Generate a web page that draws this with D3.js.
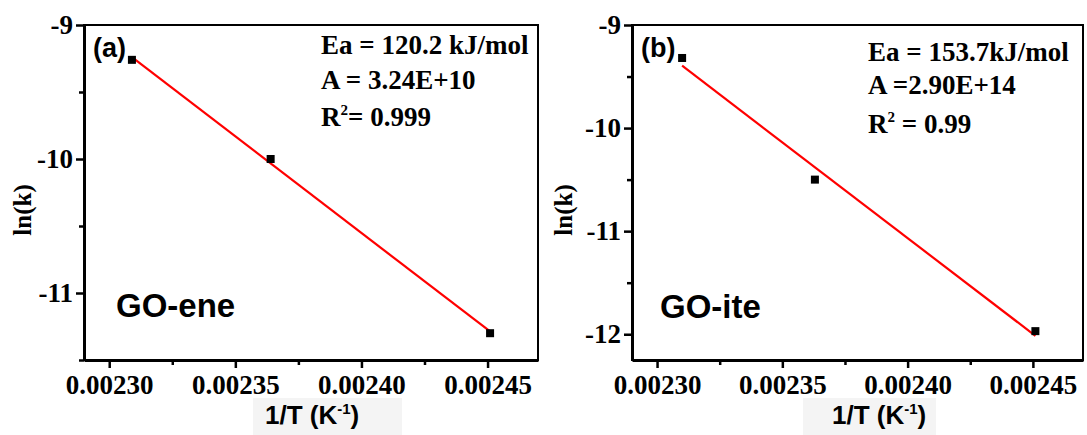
<!DOCTYPE html>
<html>
<head>
<meta charset="utf-8">
<script src="https://cdn.jsdelivr.net/npm/d3@7"></script>
<style>
  body { margin: 0; background: #fff; }
  svg { display: block; }
  .tick text { font-family: "Liberation Serif", "Times New Roman", serif !important; font-weight: bold; }
</style>
</head>
<body>
<div id="chart"></div>
<script>
// data
var invT_a = [0.002309, 0.002364, 0.002451];
var lnk_a = [-9.26, -10.00, -11.30];
var invT_b = [0.002310, 0.002363, 0.002451];
var lnk_b = [-9.32, -10.50, -11.97];

var xTicks = [0.00230, 0.00235, 0.00240, 0.00245];
var xMinor = [0.002325, 0.002375, 0.002425];
var yTicks_a = [-9, -10, -11];
var yMinor_a = [-9.5, -10.5, -11.5];
var yTicks_b = [-9, -10, -11, -12];
var yMinor_b = [-9.5, -10.5, -11.5];

var fitText_a = ["Ea = 120.2 kJ/mol", "A = 3.24E+10", "= 0.999"];
var fitText_b = ["Ea = 153.7kJ/mol", "A =2.90E+14", " = 0.99"];

var W = 1087, H = 435;
var serif = "'Liberation Serif', 'Times New Roman', serif";
var sans = "'Liberation Sans', Arial, sans-serif";

var svg = d3.select("#chart").append("svg")
    .attr("width", W)
    .attr("height", H);

// linear least squares
function fit(xs, ys) {
    var mx = d3.mean(xs), my = d3.mean(ys);
    var sxy = 0, sxx = 0;
    xs.forEach(function (x, i) {
        sxy += (x - mx) * (ys[i] - my);
        sxx += (x - mx) * (x - mx);
    });
    var b = sxy / sxx;
    return function (x) { return my + b * (x - mx); };
}

function drawPanel(p) {
    var x = d3.scaleLinear().domain([0.00229, 0.00247]).range([p.l, p.r]);
    var y = d3.scaleLinear().domain(p.yDomain).range([p.b, p.t]);
    var g = svg.append("g");

    // frame top/right
    g.append("rect")
        .attr("x", p.l).attr("y", p.t)
        .attr("width", p.r - p.l).attr("height", p.b - p.t)
        .attr("fill", "none").attr("stroke", "#000").attr("stroke-width", 2);

    // minor ticks
    g.append("g")
        .attr("transform", "translate(0," + p.b + ")")
        .call(d3.axisBottom(x).tickValues(xMinor).tickSize(5).tickFormat(""))
        .call(function (a) { a.select(".domain").remove(); })
        .selectAll("line").attr("stroke-width", 2.5);
    g.append("g")
        .attr("transform", "translate(" + p.l + ",0)")
        .call(d3.axisLeft(y).tickValues(p.yMinor).tickSize(5).tickFormat(""))
        .call(function (a) { a.select(".domain").remove(); })
        .selectAll("line").attr("stroke-width", 2.5);

    // major axes
    var xa = g.append("g")
        .attr("transform", "translate(0," + p.b + ")")
        .call(d3.axisBottom(x).tickValues(xTicks).tickSize(8).tickSizeOuter(0)
            .tickPadding(5).tickFormat(d3.format(".5f")));
    var ya = g.append("g")
        .attr("transform", "translate(" + p.l + ",0)")
        .call(d3.axisLeft(y).tickValues(p.yTicks).tickSize(8).tickSizeOuter(0)
            .tickPadding(3).tickFormat(function (d) { return String(d); }));

    [xa, ya].forEach(function (a) {
        a.attr("font-family", serif).attr("font-size", 27);
        a.select(".domain").attr("stroke-width", 3);
        a.selectAll(".tick line").attr("stroke-width", 2.5);
        a.selectAll("text")
            .attr("fill", "#000")
            .attr("font-family", serif)
            .attr("font-weight", "bold")
            .attr("font-size", 27);
    });
    xa.selectAll("text").attr("dy", "0.76em");

    // fit line
    var f = fit(p.xs, p.ys);
    var x0 = d3.min(p.xs), x1 = d3.max(p.xs);
    g.append("line")
        .attr("x1", x(x0)).attr("y1", y(f(x0)))
        .attr("x2", x(x1)).attr("y2", y(f(x1)))
        .attr("stroke", "#ff0000").attr("stroke-width", 2.2);

    // points
    g.selectAll(".pt")
        .data(p.xs.map(function (d, i) { return [d, p.ys[i]]; }))
        .enter().append("rect")
        .attr("class", "pt")
        .attr("x", function (d) { return x(d[0]) - 4; })
        .attr("y", function (d) { return y(d[1]) - 4; })
        .attr("width", 8).attr("height", 8)
        .attr("fill", "#000");

    // panel letter
    g.append("text")
        .attr("x", p.l + 9).attr("y", 57)
        .style("font-family", sans).style("font-weight", "bold").style("font-size", "27px")
        .text(p.letter);

    // sample name
    g.append("text")
        .attr("x", p.nameX).attr("y", p.nameY)
        .style("font-family", sans).style("font-weight", "bold").style("font-size", "33px")
        .text(p.name);

    // fit results
    var tx = p.textX;
    g.append("text").attr("x", tx).attr("y", p.lines[0])
        .style("font-family", serif).style("font-weight", "bold").style("font-size", "27px")
        .text(p.fitText[0]);
    g.append("text").attr("x", tx).attr("y", p.lines[1])
        .style("font-family", serif).style("font-weight", "bold").style("font-size", "27px")
        .text(p.fitText[1]);
    var r2 = g.append("text").attr("x", tx).attr("y", p.lines[2])
        .style("font-family", serif).style("font-weight", "bold").style("font-size", "27px");
    r2.append("tspan").text("R");
    r2.append("tspan").attr("dy", -11).style("font-size", "15px").text("2");
    r2.append("tspan").attr("dy", 11).text(p.fitText[2]);

    // y label
    g.append("text")
        .attr("transform", "translate(" + p.yLabX + ",210) rotate(-90)")
        .attr("text-anchor", "middle")
        .style("font-family", serif).style("font-weight", "bold").style("font-size", "25px")
        .text("ln(k)");

    // x label with light box
    g.append("rect")
        .attr("x", p.xLab[0]).attr("y", 398)
        .attr("width", p.xLab[1] - p.xLab[0]).attr("height", 37)
        .attr("fill", "#f4f4f4");
    var xl = g.append("text")
        .attr("x", p.xLabText).attr("y", 424)
        .style("font-family", sans).style("font-weight", "bold").style("font-size", "26px");
    xl.append("tspan").text("1/T (K");
    xl.append("tspan").attr("dy", -10).style("font-size", "15px").text("-1");
    xl.append("tspan").attr("dy", 10).text(")");
}

drawPanel({
    l: 84, r: 538, t: 25, b: 360,
    yDomain: [-11.5, -9], yTicks: yTicks_a, yMinor: yMinor_a,
    xs: invT_a, ys: lnk_a,
    letter: "(a)", name: "GO-ene", nameX: 116, nameY: 317,
    fitText: fitText_a, textX: 321, lines: [54, 89, 126],
    yLabX: 31, xLab: [253, 402], xLabText: 265
});

drawPanel({
    l: 632, r: 1083, t: 25, b: 360,
    yDomain: [-12.25, -9], yTicks: yTicks_b, yMinor: yMinor_b,
    xs: invT_b, ys: lnk_b,
    letter: "(b)", name: "GO-ite", nameX: 660, nameY: 318,
    fitText: fitText_b, textX: 868, lines: [61, 94, 133],
    yLabX: 572, xLab: [803, 936], xLabText: 832
});
</script>
</body>
</html>
